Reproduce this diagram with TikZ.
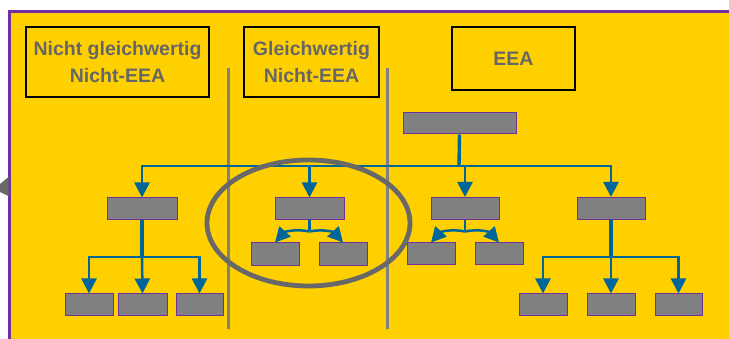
\documentclass[tikz,border=0pt]{standalone}
\usepackage{fontspec}
\setmainfont{Liberation Sans}
\usetikzlibrary{arrows.meta,calc}
\definecolor{panel}{RGB}{255,208,0}
\definecolor{frame}{RGB}{112,48,160}
\definecolor{boxgray}{RGB}{128,128,128}
\definecolor{flow}{RGB}{0,102,153}
\definecolor{labelgray}{RGB}{102,102,102}
\definecolor{ringgray}{RGB}{104,104,104}
\begin{document}
\begin{tikzpicture}[x=1pt,y=-1pt,
  header/.style={draw=black,line width=2.8pt,fill=panel,inner sep=0pt,
    align=center,text=labelgray,font=\fontsize{19.5}{27}\selectfont\bfseries},
  unit/.style={draw=frame,line width=1pt,fill=boxgray,inner sep=0pt,
    minimum height=22pt},
  conn/.style={draw=flow,line width=2.5pt},
  stem/.style={draw=flow,line width=3.4pt},
  tip/.style={-{Triangle[width=15pt,length=15pt]}},
  divider/.style={draw=boxgray,line width=3pt}]
\useasboundingbox (0,0) rectangle (729,339);
\fill[white] (0,0) rectangle (729,339);
% panel with purple frame on top and left
\fill[panel] (9.5,11.5) rectangle (735,345);
\draw[frame,line width=2.8pt] (735,11.5) -- (9.5,11.5) -- (9.5,345);
% small arrow head peeking in from the left
\fill[ringgray] (8.5,177) -- (0,184) -- (0,192) -- (8.5,196) -- cycle;

% column headers
\node[header,minimum width=183pt,minimum height=70pt] (h1) at (117.5,62)
  {Nicht gleichwertig\\Nicht-EEA};
\node[header,minimum width=135pt,minimum height=70pt] (h2) at (311.5,62)
  {Gleichwertig\\Nicht-EEA};
\node[header,minimum width=123pt,minimum height=63pt] (h3) at (513.5,58.5)
  {EEA};

% column dividers
\coordinate (d1t) at (228,68); \coordinate (d1b) at (228,329);
\coordinate (d2t) at (387,68); \coordinate (d2b) at (387,329);
\draw[divider] (d1t) -- (d1b);
\draw[divider] (d2t) -- (d2b);

% organisation units
\node[unit,minimum width=113pt,minimum height=21pt] (top) at (459.5,123.5) {};
\node[unit,minimum width=70pt] (A) at (142,209) {};
\node[unit,minimum width=69pt] (B) at (309.5,209) {};
\node[unit,minimum width=68pt] (C) at (465,208.5) {};
\node[unit,minimum width=68pt] (D) at (611,208.5) {};

\node[unit,minimum width=48pt] (A1) at (89,305) {};
\node[unit,minimum width=49pt] (A2) at (142.5,305) {};
\node[unit,minimum width=47pt] (A3) at (199.5,305) {};

\node[unit,minimum width=48pt,minimum height=23pt] (B1) at (275,254.5) {};
\node[unit,minimum width=48pt,minimum height=23pt] (B2) at (343,254.5) {};

\node[unit,minimum width=48pt] (C1) at (431,254) {};
\node[unit,minimum width=48pt] (C2) at (499,254) {};

\node[unit,minimum width=48pt] (D1) at (543,305) {};
\node[unit,minimum width=48pt] (D2) at (611,305) {};
\node[unit,minimum width=47pt] (D3) at (678.5,305) {};

% main bus
\coordinate (bus) at (459,166);
\draw[stem] (top.south) -- (bus);
\draw[conn,tip] (bus) -| (A.north);
\draw[conn,tip] (bus) -| (B.north);
\draw[conn,tip] (bus) -| (C.north);
\draw[conn,tip] (bus) -| (D.north);

% left branch
\coordinate (abus) at (142,257);
\draw[stem] (A.south) -- (abus);
\draw[conn,tip] (abus) -- (A2.north);
\draw[conn,tip] (abus) -| (A1.north);
\draw[conn,tip] (abus) -| (A3.north);

% right branch
\coordinate (dbus) at (611,257);
\draw[stem] (D.south) -- (dbus);
\draw[conn,tip] (dbus) -- (D2.north);
\draw[conn,tip] (dbus) -| (D1.north);
\draw[conn,tip] (dbus) -| (D3.north);

% split pairs
\coordinate (bj) at (309.5,231.5);
\draw[conn] (B.south) -- (bj);
\draw[conn,tip] (bj) to[bend right=30] (B1.north);
\draw[conn,tip] (bj) to[bend left=30] (B2.north);

\coordinate (cj) at (465,231.5);
\draw[conn] (C.south) -- (cj);
\draw[conn,tip] (cj) to[bend right=30] (C1.north);
\draw[conn,tip] (cj) to[bend left=30] (C2.north);

% highlight ring
\draw[ringgray,line width=4.8pt] (308.5,223) ellipse [x radius=101.5pt,y radius=63pt];
\end{tikzpicture}
\end{document}
